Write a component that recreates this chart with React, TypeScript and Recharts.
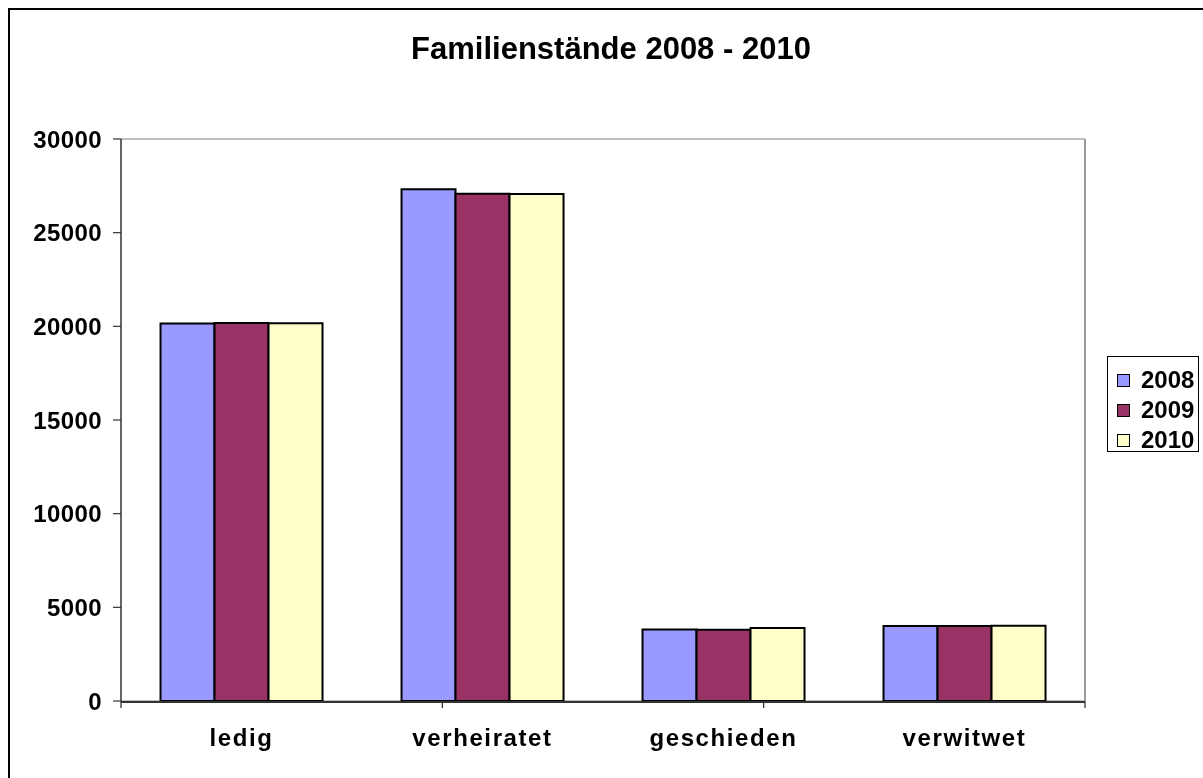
import React from "react";
import { BarChart, Bar, XAxis, YAxis, CartesianGrid } from "recharts";

const categories = ["ledig", "verheiratet", "geschieden", "verwitwet"];
const years = ["2008", "2009", "2010"];
const values2008 = [20150, 27320, 3820, 4010];
const values2009 = [20180, 27080, 3810, 4010];
const values2010 = [20160, 27070, 3900, 4020];
const yTicks = [0, 5000, 10000, 15000, 20000, 25000, 30000];
const boundaryTicks = [0, 1, 2, 3, 4];
const colors = ["#9999FF", "#993366", "#FFFFCC"];

const data = categories.map((c, i) => ({
  name: c,
  "2008": values2008[i],
  "2009": values2009[i],
  "2010": values2010[i],
}));

const FONT = "'Liberation Sans', Arial, sans-serif";

const EmptyTick = () => <g />;

export default function App() {
  return (
    <div style={{ position: "fixed", left: 8, top: 8, width: 1195, height: 770, fontFamily: FONT, overflow: "hidden" }}>
      <div
        style={{
          position: "absolute",
          left: 0,
          top: 0,
          width: 1195,
          height: 770,
          borderLeft: "2px solid #000",
          borderTop: "2px solid #000",
          boxSizing: "border-box",
        }}
      />
      <div
        style={{
          position: "absolute",
          left: 0,
          width: 1206,
          top: 25,
          textAlign: "center",
          fontSize: 31,
          lineHeight: "31px",
          fontWeight: "bold",
          color: "#000",
        }}
      >
        Familienstände 2008 - 2010
      </div>
      <div style={{ position: "absolute", left: 0, top: 0 }}>
        <BarChart
          width={1195}
          height={770}
          data={data}
          margin={{ top: 131, right: 117, bottom: 75, left: 0 }}
          barCategoryGap="16.4%"
          barGap={0}
        >
          <CartesianGrid vertical={false} stroke="#808080" strokeWidth={1.2} />
          <XAxis
            xAxisId="b"
            type="number"
            domain={[0, 4]}
            ticks={boundaryTicks}
            interval={0}
            height={1}
            tick={EmptyTick}
            axisLine={false}
            tickLine={{ stroke: "#222", strokeWidth: 1.2 }}
            tickSize={7}
            allowDataOverflow
          />
          <XAxis
            xAxisId="c"
            dataKey="name"
            interval={0}
            height={1}
            axisLine={{ stroke: "#333", strokeWidth: 2 }}
            tickLine={false}
            tickSize={8}
            tickMargin={19}
            tick={{ fill: "#000", fontSize: 24, fontWeight: "bold", fontFamily: FONT, letterSpacing: 1.6 }}
          />
          <YAxis
            yAxisId="l"
            domain={[0, 30000]}
            ticks={yTicks}
            interval={0}
            width={113}
            axisLine={{ stroke: "#333", strokeWidth: 1.5 }}
            tickLine={{ stroke: "#333", strokeWidth: 1.2 }}
            tickSize={8}
            tickMargin={11}
            tick={{ fill: "#000", fontSize: 24, fontWeight: "bold", fontFamily: FONT, letterSpacing: 0.4 }}
          />
          <YAxis
            yAxisId="r"
            orientation="right"
            domain={[0, 30000]}
            width={1}
            tick={false}
            tickLine={false}
            axisLine={{ stroke: "#999", strokeWidth: 2 }}
          />
          {years.map((y, i) => (
            <Bar
              key={y}
              dataKey={y}
              xAxisId="c"
              yAxisId="l"
              fill={colors[i]}
              stroke="#000"
              strokeWidth={2}
              isAnimationActive={false}
            />
          ))}
        </BarChart>
      </div>
      <div
        style={{
          position: "absolute",
          left: 1099,
          top: 348,
          width: 92,
          height: 96,
          border: "1px solid #000",
          boxSizing: "border-box",
          background: "#fff",
        }}
      >
        {years.map((y, i) => (
          <div
            key={y}
            style={{
              position: "absolute",
              left: 9,
              top: 9 + i * 30,
              height: 28,
              display: "flex",
              alignItems: "center",
            }}
          >
            <div
              style={{
                width: 13,
                height: 13,
                background: colors[i],
                border: "1px solid #000",
                boxSizing: "border-box",
                marginRight: 11,
              }}
            />
            <span style={{ fontSize: 24, fontWeight: "bold", color: "#000", lineHeight: "28px" }}>{y}</span>
          </div>
        ))}
      </div>
    </div>
  );
}
